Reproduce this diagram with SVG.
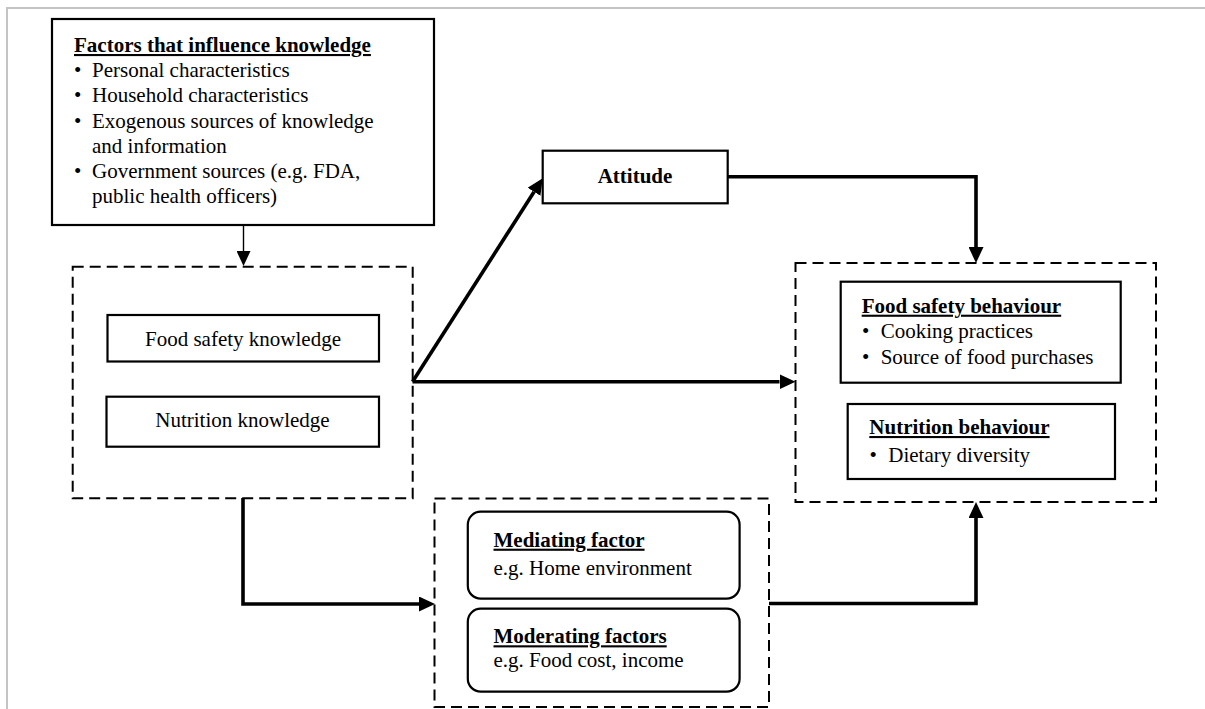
<svg xmlns="http://www.w3.org/2000/svg" width="1205" height="709" viewBox="0 0 1205 709">
  <style>
    .frame { stroke: #c4c4c4; stroke-width: 2; fill: none; }
    .box { fill: #ffffff; stroke: #000000; stroke-width: 2.2; }
    .dash { fill: none; stroke: #000000; stroke-width: 2; stroke-dasharray: 11 6; }
    .conn { fill: none; stroke: #000000; stroke-width: 3.6; stroke-linejoin: miter; }
    .thin { fill: none; stroke: #000000; stroke-width: 1.4; }
    text { font-family: "Liberation Serif", "Times New Roman", serif; font-size: 21px; fill: #000000; }
    .title { font-weight: bold; text-decoration: underline; }
    .bold { font-weight: bold; }
    .mid { text-anchor: middle; }
  </style>
  <defs>
    <marker id="head" viewBox="0 0 16 15" refX="0" refY="7.5" markerWidth="16" markerHeight="15" markerUnits="userSpaceOnUse" orient="auto">
      <path d="M0,0 L16,7.5 L0,15 Z" fill="#000000"/>
    </marker>
    <marker id="headThin" viewBox="0 0 15 14" refX="0" refY="7" markerWidth="15" markerHeight="14" markerUnits="userSpaceOnUse" orient="auto">
      <path d="M0,0 L15,7 L0,14 Z" fill="#000000"/>
    </marker>
  </defs>

  <!-- page frame -->
  <path class="frame" d="M1205,8 H7 V709"/>

  <!-- connectors -->
  <g id="connectors">
    <path class="thin" d="M243.5,225 V251" marker-end="url(#headThin)"/>
    <path class="conn" d="M412.5,381.7 L534.1,191.8" marker-end="url(#head)"/>
    <path class="conn" d="M412.5,381.7 H779.5" marker-end="url(#head)"/>
    <path class="conn" d="M727.5,176.7 H976 V247" marker-end="url(#head)"/>
    <path class="conn" d="M243,498 V604 H419" marker-end="url(#head)"/>
    <path class="conn" d="M769,603.5 H976 V518" marker-end="url(#head)"/>
  </g>

  <!-- factors that influence knowledge -->
  <g id="factors">
    <rect class="box" x="52" y="19" width="382" height="206" stroke-width="2.6"/>
    <text class="title" x="74" y="52">Factors that influence knowledge</text>
    <text x="74" y="77">•</text>
    <text x="92" y="77">Personal characteristics</text>
    <text x="74" y="102">•</text>
    <text x="92" y="102">Household characteristics</text>
    <text x="74" y="127.5">•</text>
    <text x="92" y="127.5">Exogenous sources of knowledge</text>
    <text x="92" y="152.5">and information</text>
    <text x="74" y="177.5">•</text>
    <text x="92" y="177.5">Government sources (e.g. FDA,</text>
    <text x="92" y="202.5">public health officers)</text>
  </g>

  <!-- knowledge group -->
  <g id="knowledge">
    <rect class="dash" x="72.7" y="266.7" width="340" height="231.5"/>
  </g>
  <g id="food-safety-knowledge">
    <rect class="box" x="107.5" y="315" width="271.5" height="46.5"/>
    <text class="mid" x="243" y="346">Food safety knowledge</text>
  </g>
  <g id="nutrition-knowledge">
    <rect class="box" x="106.5" y="396.7" width="272.5" height="50"/>
    <text class="mid" x="242.5" y="427">Nutrition knowledge</text>
  </g>

  <!-- attitude -->
  <g id="attitude">
    <rect class="box" x="542.7" y="150.7" width="185" height="52.6"/>
    <text class="bold mid" x="635" y="183.3">Attitude</text>
  </g>

  <!-- behaviour group -->
  <g id="behaviour">
    <rect class="dash" x="795.5" y="263" width="360.5" height="239"/>
  </g>
  <g id="food-safety-behaviour">
    <rect class="box" x="840.7" y="281.7" width="280" height="101"/>
    <text class="title" x="861.7" y="312.7">Food safety behaviour</text>
    <text x="862" y="338">•</text>
    <text x="880.7" y="338">Cooking practices</text>
    <text x="862" y="364.3">•</text>
    <text x="880.7" y="364.3">Source of food purchases</text>
  </g>
  <g id="nutrition-behaviour">
    <rect class="box" x="847.7" y="404" width="267.3" height="75"/>
    <text class="title" x="869.3" y="434">Nutrition behaviour</text>
    <text x="869.5" y="461.7">•</text>
    <text x="888.3" y="461.7">Dietary diversity</text>
  </g>

  <!-- mediating / moderating group -->
  <g id="factors-group">
    <rect class="dash" x="434.5" y="498.5" width="334.5" height="208.5"/>
  </g>
  <g id="mediating">
    <rect class="box" x="467.8" y="511.7" width="271.8" height="87" rx="13" ry="13"/>
    <text class="title" x="493.5" y="546.7">Mediating factor</text>
    <text x="493.5" y="575">e.g. Home environment</text>
  </g>
  <g id="moderating">
    <rect class="box" x="467.8" y="608.7" width="271.8" height="83" rx="13" ry="13"/>
    <text class="title" x="493.5" y="643.3">Moderating factors</text>
    <text x="493.5" y="666.7">e.g. Food cost, income</text>
  </g>
</svg>
